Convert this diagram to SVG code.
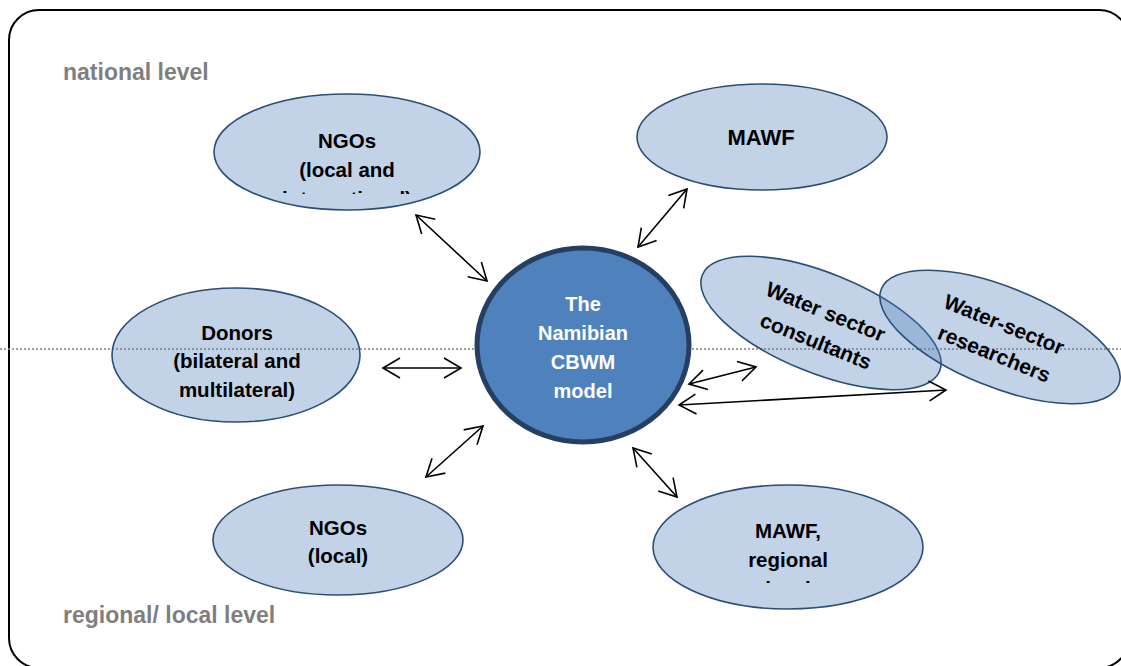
<svg xmlns="http://www.w3.org/2000/svg" width="1121" height="666" viewBox="0 0 1121 666">
  <defs>
    <style>
      .frame { fill: #ffffff; stroke: #000000; stroke-width: 2; }
      .divider { stroke: #7f7f7f; stroke-width: 1.5; stroke-dasharray: 2 2; fill: none; }
      .level { font-family: "Liberation Sans", Arial, sans-serif; font-weight: bold; font-size: 23px; fill: #7f7f7f; }
      .actor { fill: #4f81bd; fill-opacity: 0.35; stroke: #2c4d75; stroke-width: 1.6; }
      .core { fill: #4f81bd; stroke: #243f60; stroke-width: 5; }
      .label { font-family: "Liberation Sans", Arial, sans-serif; font-weight: bold; font-size: 20.5px; fill: #000000; text-anchor: middle; }
      .core-label { font-family: "Liberation Sans", Arial, sans-serif; font-weight: bold; font-size: 20px; fill: #ffffff; text-anchor: middle; }
      .link { stroke: #000000; stroke-width: 1.6; fill: none; marker-start: url(#chevron); marker-end: url(#chevron); }
    </style>
    <marker id="chevron" viewBox="0 0 20 22" refX="18" refY="11" markerWidth="20" markerHeight="22" markerUnits="userSpaceOnUse" orient="auto-start-reverse">
      <path d="M1,1 L18,11 L1,21" fill="none" stroke="#000000" stroke-width="1.6"/>
    </marker>
    <clipPath id="clip-ngo-intl">
      <rect x="200" y="80" width="300" height="114"/>
    </clipPath>
    <clipPath id="clip-mawf-reg">
      <rect x="640" y="470" width="300" height="113"/>
    </clipPath>
  </defs>

  <!-- outer frame -->
  <rect class="frame" x="9" y="10" width="1120" height="658" rx="30" ry="30"/>

  <!-- boundary between national and regional/local level -->
  <line class="divider" x1="0" y1="349" x2="1121" y2="349"/>

  <text class="level" x="63" y="80">national level</text>
  <text class="level" x="63" y="623">regional/ local level</text>

  <g id="node-ngos-international">
    <ellipse class="actor" cx="347" cy="152" rx="133" ry="58"/>
    <text class="label" x="347" y="148">NGOs</text>
    <text class="label" x="347" y="177">(local and</text>
    <text class="label" x="347" y="206" clip-path="url(#clip-ngo-intl)">international)</text>
  </g>

  <g id="node-mawf">
    <ellipse class="actor" cx="762" cy="137" rx="125" ry="53"/>
    <text class="label" x="761" y="145" style="font-size:22px">MAWF</text>
  </g>

  <g id="node-donors">
    <ellipse class="actor" cx="236" cy="355" rx="124" ry="67"/>
    <text class="label" x="237" y="340">Donors</text>
    <text class="label" x="237" y="368">(bilateral and</text>
    <text class="label" x="237" y="397">multilateral)</text>
  </g>

  <g id="node-ngos-local">
    <ellipse class="actor" cx="338" cy="540" rx="125" ry="55"/>
    <text class="label" x="338" y="535">NGOs</text>
    <text class="label" x="338" y="563">(local)</text>
  </g>

  <g id="node-mawf-regional">
    <ellipse class="actor" cx="788" cy="547" rx="135" ry="62"/>
    <text class="label" x="788" y="538">MAWF,</text>
    <text class="label" x="788" y="567">regional</text>
    <text class="label" x="788" y="596" clip-path="url(#clip-mawf-reg)">level</text>
  </g>

  <g id="node-consultants" transform="rotate(22 821 323)">
    <ellipse class="actor" cx="821" cy="323" rx="128" ry="50"/>
    <text class="label" x="821" y="318" style="font-size:21px">Water sector</text>
    <text class="label" x="823" y="349" style="font-size:21px">consultants</text>
  </g>

  <g id="node-researchers" transform="rotate(22 1000 337)">
    <ellipse class="actor" cx="1000" cy="337" rx="128" ry="50"/>
    <text class="label" x="999" y="331" style="font-size:21px">Water-sector</text>
    <text class="label" x="1001" y="362" style="font-size:21px">researchers</text>
  </g>

  <g id="node-cbwm">
    <ellipse class="core" cx="583" cy="345" rx="106" ry="97"/>
    <text class="core-label" x="583" y="311">The</text>
    <text class="core-label" x="583" y="340">Namibian</text>
    <text class="core-label" x="583" y="369">CBWM</text>
    <text class="core-label" x="583" y="398">model</text>
  </g>

  <g id="connectors">
    <line class="link" x1="416" y1="215" x2="487" y2="281"/>
    <line class="link" x1="638" y1="247" x2="687" y2="189"/>
    <line class="link" x1="383" y1="368" x2="461" y2="368"/>
    <line class="link" x1="426" y1="477" x2="483" y2="426"/>
    <line class="link" x1="689" y1="384" x2="756" y2="367"/>
    <line class="link" x1="679" y1="405" x2="946" y2="390"/>
    <line class="link" x1="633" y1="448" x2="677" y2="497"/>
  </g>
</svg>
